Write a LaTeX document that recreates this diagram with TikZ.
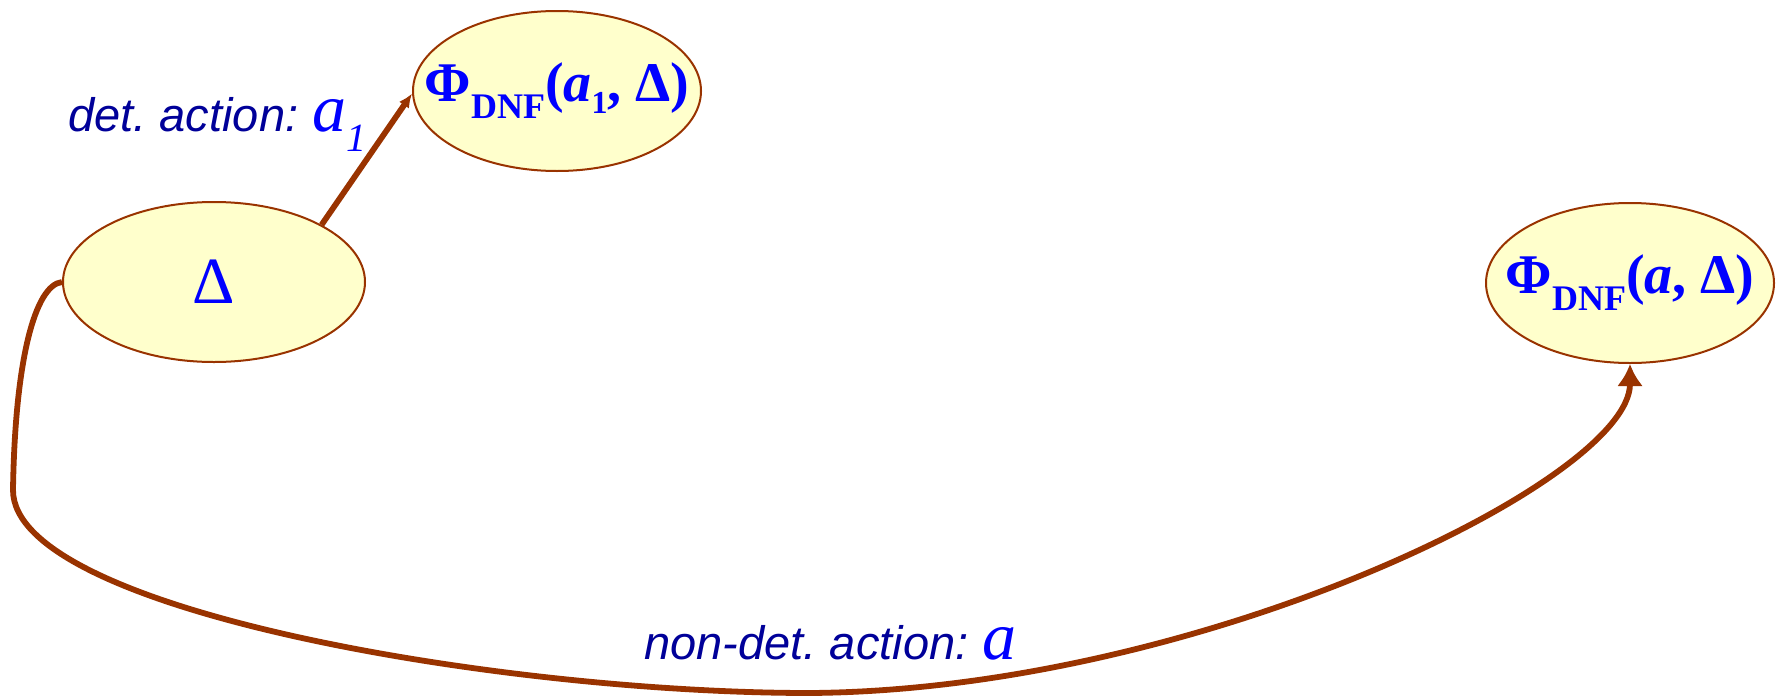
\documentclass[tikz,border=0pt]{standalone}
\usepackage{fontspec}
\setmainfont{Liberation Serif}
\setsansfont{Liberation Sans}
\usetikzlibrary{shapes.geometric,arrows.meta}
\definecolor{edgebrown}{HTML}{993300}
\definecolor{fillyel}{HTML}{FFFFCC}
\definecolor{txtblue}{HTML}{0000FF}
\definecolor{labnavy}{HTML}{000099}
\newcommand{\phidnf}{\bfseries Φ\raisebox{-0.3em}{\fontsize{18}{18}\selectfont DNF}}
\frenchspacing
\begin{document}
\begin{tikzpicture}[x=0.5pt,y=-0.5pt,
  state/.style={ellipse, draw=edgebrown, line width=1pt, fill=fillyel, inner sep=0pt, text=txtblue},
  conn/.style={draw=edgebrown, line width=2.9pt},
  lab/.style={anchor=base west, inner sep=0pt, text=labnavy, font=\sffamily\itshape\fontsize{23.5}{28}\selectfont}]
\useasboundingbox (0,0) rectangle (1781,696);
\node[state, minimum width=151pt, minimum height=80pt] (d) at (214,282) {\makebox[0pt]{\fontsize{33}{33}\selectfont Δ}};
\node[state, minimum width=144pt, minimum height=80pt] (p1) at (557,91) {\makebox[0pt]{\fontsize{28}{30}\selectfont\phidnf(\textit{a}\raisebox{-0.2em}{\fontsize{16}{16}\selectfont 1}, Δ)}};
\node[state, minimum width=144pt, minimum height=80pt] (p2) at (1630,283) {\makebox[0pt]{\fontsize{28}{30}\selectfont\phidnf(\textit{a}, Δ)}};
\draw[conn, -{Latex[length=7pt,width=6pt]}] (d.28) -- (p1.181);
\draw[conn, -{Latex[length=11pt,width=13pt]}] (d.west) .. controls (35,285) and (15,360) .. (13,490)
  .. controls (13,610) and (500,693) .. (810,693)
  .. controls (1200,690) and (1630,480) .. (p2.south);
\node[lab] (l1) at (68,131) {det. action:\hspace{0.3em}\textcolor{txtblue}{\rmfamily\itshape\fontsize{34}{34}\selectfont a\raisebox{-0.3em}{\fontsize{20}{20}\selectfont 1}}};
\node[lab] (l2) at (644,659) {non-det. action:\hspace{0.3em}\textcolor{txtblue}{\rmfamily\itshape\fontsize{34}{34}\selectfont a}};
\end{tikzpicture}
\end{document}
